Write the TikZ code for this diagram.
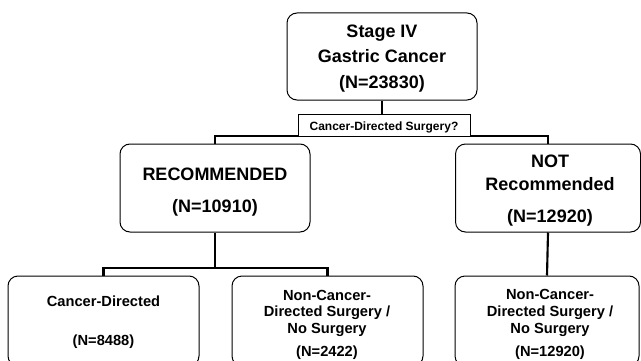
\documentclass[tikz,border=0pt]{standalone}
\usepackage{fontspec}
\setmainfont{Liberation Sans}
\begin{document}
\begin{tikzpicture}[x=0.75pt,y=-0.75pt,
  box/.style={draw=black,line width=0.75pt,rounded corners=7.5pt,fill=white,inner sep=0pt},
  qbox/.style={draw=black,line width=0.75pt,fill=white,inner sep=0pt},
  conn/.style={draw=black,line width=1.6pt},
  big/.style={anchor=base,inner sep=0pt,font=\fontsize{13.5pt}{16pt}\selectfont\bfseries},
  small/.style={anchor=base,inner sep=0pt,font=\fontsize{11pt}{13pt}\selectfont\bfseries},
  tiny/.style={anchor=base,inner sep=0pt,font=\fontsize{9pt}{11pt}\selectfont\bfseries}]
\clip (0,0) rectangle (641,360);
\fill[white] (0,0) rectangle (641,360);
% boxes
\node[box,minimum width=142.5pt,minimum height=65.25pt] (top) at (382,56.5) {};
\node[box,minimum width=142.5pt,minimum height=66pt] (rec) at (215,188) {};
\node[box,minimum width=138.75pt,minimum height=66pt] (not) at (548,188) {};
\node[box,minimum width=143.25pt,minimum height=67.5pt] (left) at (103.5,321) {};
\node[box,minimum width=143.25pt,minimum height=67.5pt] (mid) at (327.5,321) {};
\node[box,minimum width=138pt,minimum height=67.5pt] (right) at (547,321) {};
% connectors
\coordinate (split) at (382,136);
\coordinate (split2) at (215,268);
\draw[conn] (top.south) -- (split);
\draw[conn] (rec.north) |- (split) -| (not.north);
\draw[conn] (rec.south) -- (split2);
\draw[conn] (left.north) |- (split2) -| (mid.north);
\draw[conn] (not.south) -- (right.north);
% question label
\node[qbox,minimum width=129pt,minimum height=16.5pt] (q) at (384,125) {};
\node[tiny] (qt) at (384,130.5) {Cancer-Directed Surgery?};
% texts
\node[big] (t1) at (382,38) {Stage IV};
\node[big] (t2) at (382,62) {Gastric Cancer};
\node[big] (t3) at (382,88) {(N=23830)};
\node[big] (r1) at (215,180) {RECOMMENDED};
\node[big] (r2) at (215,212) {(N=10910)};
\node[big] (n1) at (550,167) {NOT};
\node[big] (n2) at (550,190) {Recommended};
\node[big] (n3) at (550,222) {(N=12920)};
\node[small] (l1) at (103.5,306.7) {Cancer-Directed};
\node[small] (l2) at (103.5,345) {(N=8488)};
\node[small] (m1) at (327,300) {Non-Cancer-};
\node[small] (m2) at (327,316.7) {Directed Surgery /};
\node[small] (m3) at (327,333.3) {No Surgery};
\node[small] (m4) at (327,356) {(N=2422)};
\node[small] (g1) at (550,299.5) {Non-Cancer-};
\node[small] (g2) at (550,316.7) {Directed Surgery /};
\node[small] (g3) at (550,333.3) {No Surgery};
\node[small] (g4) at (550,356) {(N=12920)};
\end{tikzpicture}
\end{document}
